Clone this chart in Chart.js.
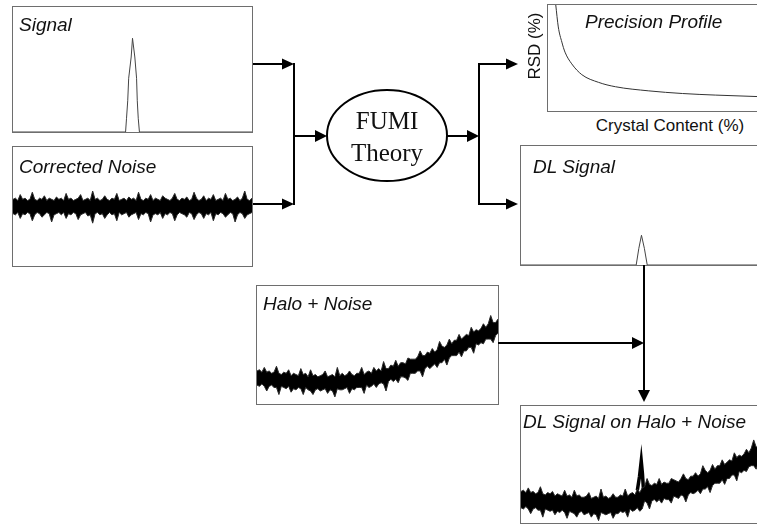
<!DOCTYPE html>
<html>
<head>
<meta charset="utf-8">
<script src="https://cdn.jsdelivr.net/npm/chart.js@4.4.1/dist/chart.umd.min.js"></script>
<style>
  body { margin: 0; background: #fff; }
  #page { position: relative; width: 757px; height: 526px; overflow: hidden; font-family: "Liberation Sans", Arial, sans-serif; color: #111; }
  .panneau { position: absolute; box-sizing: border-box; border: 1px solid #6e6e6e; background: #fff; }
  .panneau canvas { position: absolute; left: 0; top: 0; }
  .titre { position: absolute; font-style: italic; font-size: 19px; line-height: 19px; white-space: nowrap; }
  .axe { position: absolute; font-size: 17px; line-height: 17px; white-space: nowrap; }
  svg { position: absolute; left: 0; top: 0; }
</style>
</head>
<body>
<div id="page">
  <div class="panneau" style="left:12px;top:6px;width:241px;height:127px"><canvas id="signal" width="239" height="125"></canvas></div>
  <div class="panneau" style="left:12px;top:146px;width:241px;height:121px"><canvas id="bruit" width="239" height="119"></canvas></div>
  <div class="panneau" style="left:547px;top:4px;width:212px;height:108px"><canvas id="precision" width="210" height="106"></canvas></div>
  <div class="panneau" style="left:520px;top:145px;width:242px;height:121px"><canvas id="dl" width="240" height="119"></canvas></div>
  <div class="panneau" style="left:256px;top:285px;width:243px;height:120px"><canvas id="halo" width="241" height="118"></canvas></div>
  <div class="panneau" style="left:520px;top:405px;width:242px;height:119px"><canvas id="dlHalo" width="240" height="117"></canvas></div>

  <div class="titre" style="left:19px;top:15px">Signal</div>
  <div class="titre" style="left:19px;top:157px">Corrected Noise</div>
  <div class="titre" style="left:585px;top:12px">Precision Profile</div>
  <div class="titre" style="left:533px;top:157px">DL Signal</div>
  <div class="titre" style="left:263px;top:294px">Halo + Noise</div>
  <div class="titre" style="left:523px;top:412px">DL Signal on Halo + Noise</div>
  <div class="axe" style="left:534px;top:46px;transform:translate(-50%,-50%) rotate(-90deg)">RSD (%)</div>
  <div class="axe" style="left:670px;top:117px;transform:translateX(-50%)">Crystal Content (%)</div>

  <svg width="757" height="526">
    <g stroke="#000" stroke-width="2" fill="none">
      <path d="M253 64H284 M253 204H284 M294 63V205 M294 136H317 M447 136H469 M479 63V205 M479 64H508 M479 204H508 M644 265V391 M498 343H634"/>
      <ellipse cx="387" cy="135.5" rx="60" ry="45.5"/>
    </g>
    <g fill="#000">
      <polygon points="282,58.5 294,64 282,69.5"/>
      <polygon points="282,198.5 294,204 282,209.5"/>
      <polygon points="315,130 327,136 315,142"/>
      <polygon points="467,130 479,136 467,142"/>
      <polygon points="506,58.5 518,64 506,69.5"/>
      <polygon points="506,198.5 518,204 506,209.5"/>
      <polygon points="632,337 644,343 632,349"/>
      <polygon points="638,390 650,390 644,402"/>
    </g>
    <text x="387" y="129" text-anchor="middle" font-family="Liberation Serif, Times New Roman, serif" font-size="25" fill="#111">FUMI</text>
    <text x="387" y="161" text-anchor="middle" font-family="Liberation Serif, Times New Roman, serif" font-size="25" fill="#111">Theory</text>
  </svg>
</div>

<script>
// pic du signal (x en % de la largeur, y en % de la hauteur)
const signalX = [0, 47.1, 47.5, 48.0, 48.4, 49.45, 50, 50.97, 51.7, 52.0, 52.4, 52.9, 100];
const signalY = [0, 0, 11, 25, 43, 60, 75, 60, 43, 25, 11, 0, 0];

// pic DL
const dlX = [0, 48.0, 49.1, 50.2, 51.4, 52.6, 100];
const dlY = [0, 0, 14, 25, 14, 0, 0];

// profil de précision
const teneurCristal = [3.7, 4.9, 6.6, 8.1, 11.3, 16.1, 24.1, 32.1, 48.0, 64.0, 79.9, 100];
const rsd = [100, 79.3, 65, 55.5, 44.5, 34.3, 27, 22.9, 19, 16.5, 15, 13.6];

// bruit corrigé : enveloppes haute et basse (100 échantillons)
const bruitHaut = [
  56, 57, 55, 60, 56, 57, 55, 56, 62, 56, 55, 57, 56, 59, 55, 57, 56, 55, 58, 56,
  57, 55, 61, 56, 57, 55, 56, 57, 60, 55, 56, 57, 55, 63, 56, 57, 55, 56, 59, 56,
  55, 57, 56, 61, 55, 56, 57, 55, 58, 56, 57, 55, 62, 56, 55, 57, 56, 60, 55, 57,
  56, 55, 59, 57, 56, 55, 57, 61, 56, 55, 57, 56, 58, 55, 56, 62, 57, 55, 56, 59,
  55, 57, 56, 60, 55, 56, 57, 55, 61, 56, 57, 55, 56, 58, 55, 57, 63, 56, 55, 57,
];
const bruitBas = [
  44, 43, 45, 40, 44, 43, 45, 44, 38, 43, 45, 44, 41, 43, 45, 44, 37, 43, 44, 45,
  43, 45, 40, 44, 43, 45, 44, 39, 43, 44, 45, 42, 43, 36, 44, 45, 43, 44, 40, 43,
  45, 43, 44, 38, 45, 43, 44, 45, 41, 43, 44, 45, 39, 44, 43, 45, 44, 37, 43, 44,
  43, 45, 40, 44, 43, 45, 44, 38, 43, 45, 44, 43, 41, 45, 44, 39, 43, 45, 44, 40,
  44, 43, 45, 38, 44, 43, 45, 44, 41, 43, 45, 44, 37, 43, 45, 44, 40, 43, 44, 45,
];

// halo + bruit
const haloHaut = [
  28, 29, 27, 31, 27, 28, 26, 27, 32, 26, 25, 27, 26, 29, 24, 26, 25, 24, 30, 25,
  26, 23, 29, 24, 25, 23, 24, 25, 28, 23, 24, 25, 23, 31, 24, 26, 24, 25, 28, 25,
  24, 26, 26, 31, 25, 27, 28, 26, 31, 28, 30, 28, 36, 30, 30, 33, 32, 37, 32, 35,
  35, 34, 39, 38, 38, 38, 40, 45, 41, 41, 44, 43, 47, 44, 46, 53, 49, 48, 50, 55,
  51, 54, 54, 59, 55, 57, 59, 58, 65, 61, 63, 62, 64, 68, 65, 68, 75, 69, 69, 72,
];
const haloBas = [
  16, 15, 17, 15, 11, 15, 16, 14, 14, 8, 15, 14, 13, 15, 10, 13, 12, 14, 13, 8,
  14, 12, 11, 8, 12, 13, 11, 12, 13, 9, 12, 11, 6, 13, 12, 12, 13, 14, 9, 13,
  12, 14, 14, 14, 9, 16, 14, 15, 17, 14, 17, 18, 17, 11, 19, 21, 19, 21, 18, 23,
  23, 22, 20, 26, 26, 26, 28, 28, 23, 30, 32, 30, 32, 34, 31, 35, 35, 38, 33, 39,
  41, 41, 41, 44, 40, 45, 45, 48, 48, 43, 51, 50, 52, 51, 55, 55, 55, 52, 58, 60,
];

// signal DL sur halo + bruit
const dlHaloHaut = [
  27, 28, 26, 30, 26, 27, 25, 26, 31, 25, 24, 26, 25, 27, 23, 25, 24, 23, 28, 23,
  24, 22, 28, 23, 24, 22, 22, 23, 26, 21, 22, 23, 21, 29, 22, 23, 21, 22, 25, 22,
  22, 24, 23, 29, 23, 25, 26, 24, 29, 26, 30, 31, 38, 33, 32, 34, 33, 38, 33, 35,
  34, 34, 38, 37, 36, 35, 38, 42, 38, 37, 40, 40, 43, 40, 42, 49, 45, 43, 45, 50,
  46, 49, 49, 54, 50, 52, 54, 53, 60, 56, 58, 57, 59, 63, 60, 64, 71, 65, 65, 68,
];
const dlHaloBas = [
  13, 12, 14, 12, 8, 12, 13, 11, 11, 5, 12, 11, 10, 11, 7, 10, 9, 11, 9, 4,
  10, 9, 8, 5, 9, 10, 7, 8, 9, 5, 8, 7, 2, 9, 8, 7, 8, 9, 4, 8,
  8, 10, 9, 10, 5, 12, 10, 11, 13, 10, 12, 19, 17, 12, 19, 20, 18, 20, 17, 21,
  20, 20, 17, 23, 22, 21, 24, 23, 18, 24, 26, 25, 26, 28, 25, 29, 29, 31, 26, 32,
  34, 34, 34, 37, 33, 38, 38, 41, 41, 36, 44, 43, 45, 44, 48, 49, 49, 46, 52, 54,
];
const picX = [48.0, 48.9, 49.6, 50.1, 50.6, 51.0];
const picY = [28, 40, 53, 42, 26, 18];

function points(xs, ys) {
  return ys.map((y, i) => ({ x: xs ? xs[i] : i, y: y }));
}

function bande(haut, bas) {
  return [
    { data: points(null, haut), borderColor: "#2a2a2a", borderWidth: 1, fill: false },
    { data: points(null, bas), borderColor: "#2a2a2a", borderWidth: 1, fill: "-1", backgroundColor: "#000" },
  ];
}

function tracer(id, xMax, datasets) {
  new Chart(document.getElementById(id), {
    type: "line",
    data: { datasets: datasets },
    options: {
      responsive: false,
      animation: false,
      events: [],
      layout: { padding: 0 },
      elements: { point: { radius: 0 }, line: { tension: 0 } },
      plugins: { legend: { display: false }, tooltip: { enabled: false } },
      scales: {
        x: { type: "linear", min: 0, max: xMax, display: false },
        y: { min: 0, max: 100, display: false },
      },
    },
  });
}

tracer("signal", 100, [{ data: points(signalX, signalY), borderColor: "#444", borderWidth: 1 }]);
tracer("dl", 100, [{ data: points(dlX, dlY), borderColor: "#444", borderWidth: 1 }]);
tracer("precision", 100, [
  { data: points(teneurCristal, rsd), borderColor: "#333", borderWidth: 1, cubicInterpolationMode: "monotone" },
]);
tracer("bruit", bruitHaut.length - 1, bande(bruitHaut, bruitBas));
tracer("halo", haloHaut.length - 1, bande(haloHaut, haloBas));
tracer("dlHalo", dlHaloHaut.length - 1,
  bande(dlHaloHaut, dlHaloBas).concat([
    { data: points(picX, picY), borderColor: "#000", borderWidth: 3.5, borderJoinStyle: "miter" },
  ])
);
</script>
</body>
</html>
